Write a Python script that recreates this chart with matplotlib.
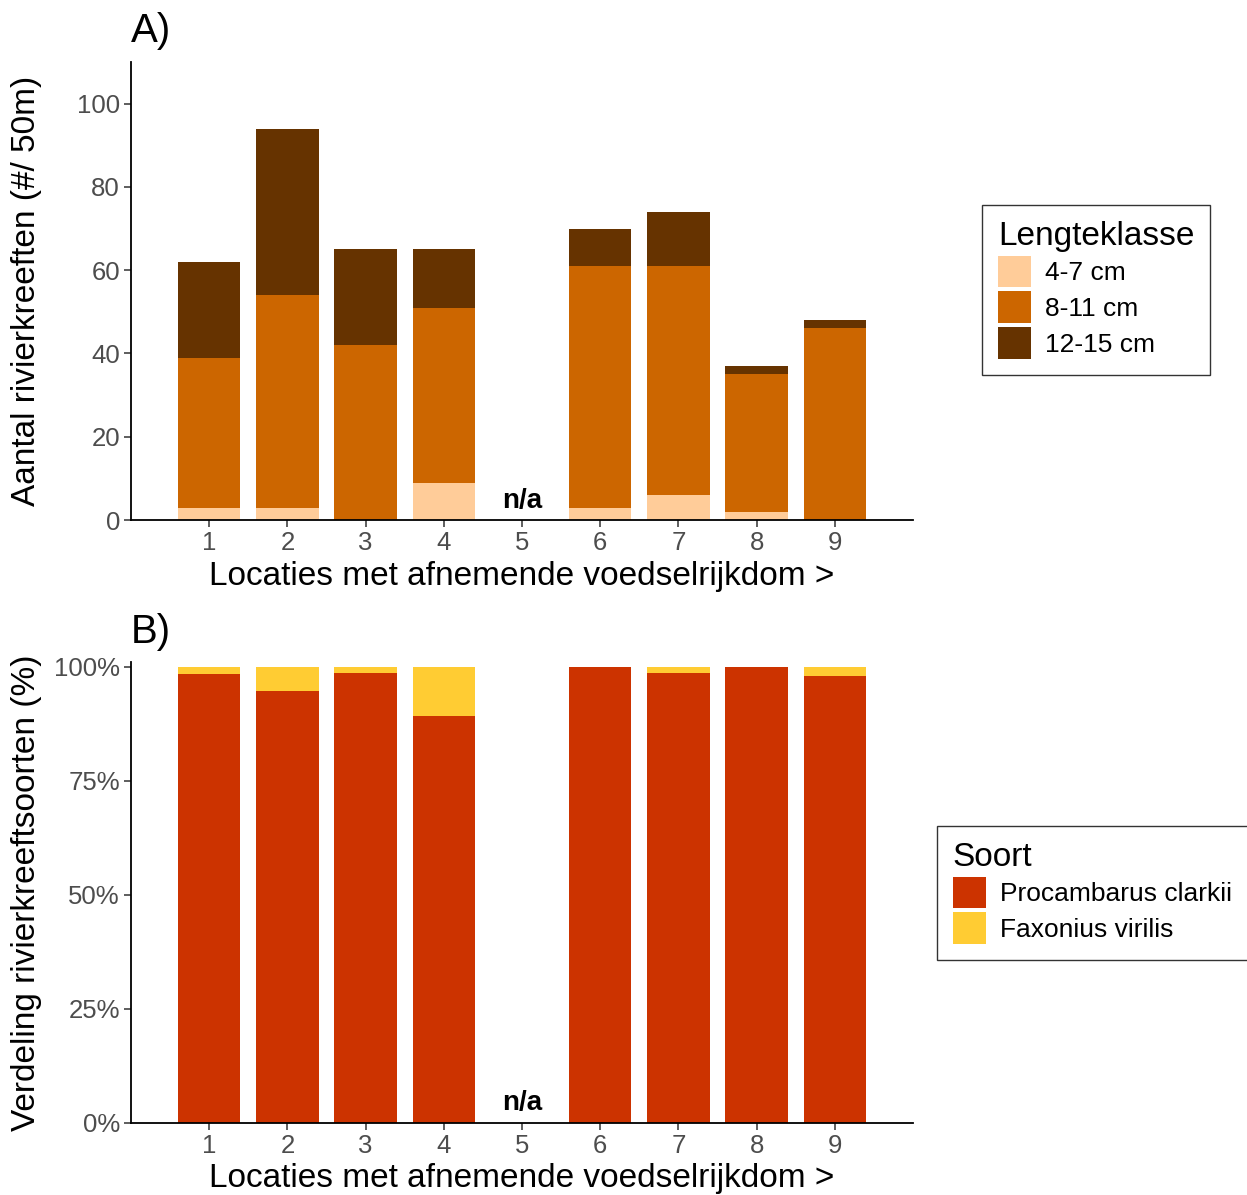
import matplotlib
matplotlib.use("Agg")
import matplotlib.pyplot as plt
from matplotlib.patches import Patch
import numpy as np

plt.rcParams['font.family'] = ['Liberation Sans', 'DejaVu Sans']

locations = [1, 2, 3, 4, 5, 6, 7, 8, 9]
size_classes = ["4-7 cm", "8-11 cm", "12-15 cm"]
small = [3, 3, 0, 9, 0, 3, 6, 2, 0]
medium = [36, 51, 42, 42, 0, 58, 55, 33, 46]
large = [23, 40, 23, 14, 0, 9, 13, 2, 2]
size_colors = ["#FFCC99", "#CC6600", "#663300"]

species = ["Procambarus clarkii", "Faxonius virilis"]
clarkii_pct = [98.4, 94.7, 98.5, 89.2, 0, 100, 98.6, 100, 97.9]
virilis_pct = [1.6, 5.3, 1.5, 10.8, 0, 0, 1.4, 0, 2.1]
species_colors = ["#CC3300", "#FFCC33"]

W, H = 1247, 1195
fig = plt.figure(figsize=(W / 100, H / 100), dpi=100)

ax1 = fig.add_axes([131 / W, 1 - 520 / H, 782 / W, 458 / H])
ax2 = fig.add_axes([131 / W, 1 - 1123 / H, 782 / W, 461 / H])

x = np.array(locations)
bw = 0.8
bottom = np.zeros(len(x))
for vals, col in zip([small, medium, large], size_colors):
    v = np.array(vals, dtype=float)
    ax1.bar(x, v, bw, bottom=bottom, color=col, edgecolor='none')
    bottom += v

bottom = np.zeros(len(x))
for vals, col in zip([clarkii_pct, virilis_pct], species_colors):
    v = np.array(vals, dtype=float) / 100
    ax2.bar(x, v, bw, bottom=bottom, color=col, edgecolor='none')
    bottom += v

ax1.set_xlim(0, 10)
ax1.set_ylim(0, 110)
ax1.set_yticks([0, 20, 40, 60, 80, 100])
ax2.set_xlim(0, 10)
ax2.set_ylim(0, 1.01)
ax2.set_yticks([0, 0.25, 0.5, 0.75, 1.0])
ax2.set_yticklabels(["0%", "25%", "50%", "75%", "100%"])

for ax in (ax1, ax2):
    ax.set_xticks(locations)
    ax.set_xticklabels([str(l) for l in locations])
    for s in ("top", "right"):
        ax.spines[s].set_visible(False)
    for s in ("left", "bottom"):
        ax.spines[s].set_linewidth(1.3)
    ax.tick_params(axis='both', labelsize=18.5, labelcolor='#4D4D4D', color='#333333',
                   length=5, width=1.1, direction='out', pad=3)
    ax.set_xlabel("Locaties met afnemende voedselrijkdom >", fontsize=24, va='center')

ax1.set_ylabel("Aantal rivierkreeften (#/ 50m)", fontsize=24, va='center')
ax2.set_ylabel("Verdeling rivierkreeftsoorten (%)", fontsize=24, va='center')
ax1.yaxis.set_label_coords((27 - 131) / 782, 0.5)
ax2.yaxis.set_label_coords((27 - 131) / 782, 0.5)
ax1.xaxis.set_label_coords(0.5, (520 - 576) / 458)
ax2.xaxis.set_label_coords(0.5, (1123 - 1178) / 461)

ax1.text(5, 1.5, "n/a", ha='center', va='bottom', fontsize=20, fontweight='bold')
ax2.text(5, 0.015, "n/a", ha='center', va='bottom', fontsize=20, fontweight='bold')

fig.text(131 / W, 1 - 31 / H, "A)", fontsize=29, ha='left', va='center')
fig.text(131 / W, 1 - 632 / H, "B)", fontsize=29, ha='left', va='center')

common = dict(loc='upper left', fontsize=19, title_fontsize=24, frameon=True,
              fancybox=False, edgecolor='black', handlelength=1.25, handleheight=1.47,
              labelspacing=0.15, handletextpad=0.55, borderpad=0.6, borderaxespad=0,
              alignment='left')

h1 = [Patch(facecolor=c, edgecolor='none') for c in size_colors]
leg1 = fig.legend(h1, size_classes, bbox_to_anchor=(982 / W, 1 - 205 / H),
                  title="Lengteklasse", **common)
leg1.get_frame().set_linewidth(1.0)

h2 = [Patch(facecolor=c, edgecolor='none') for c in species_colors]
leg2 = fig.legend(h2, species, bbox_to_anchor=(937 / W, 1 - 826 / H),
                  title="Soort", **common)
leg2.get_frame().set_linewidth(1.0)

fig.savefig("out.png", dpi=100)
